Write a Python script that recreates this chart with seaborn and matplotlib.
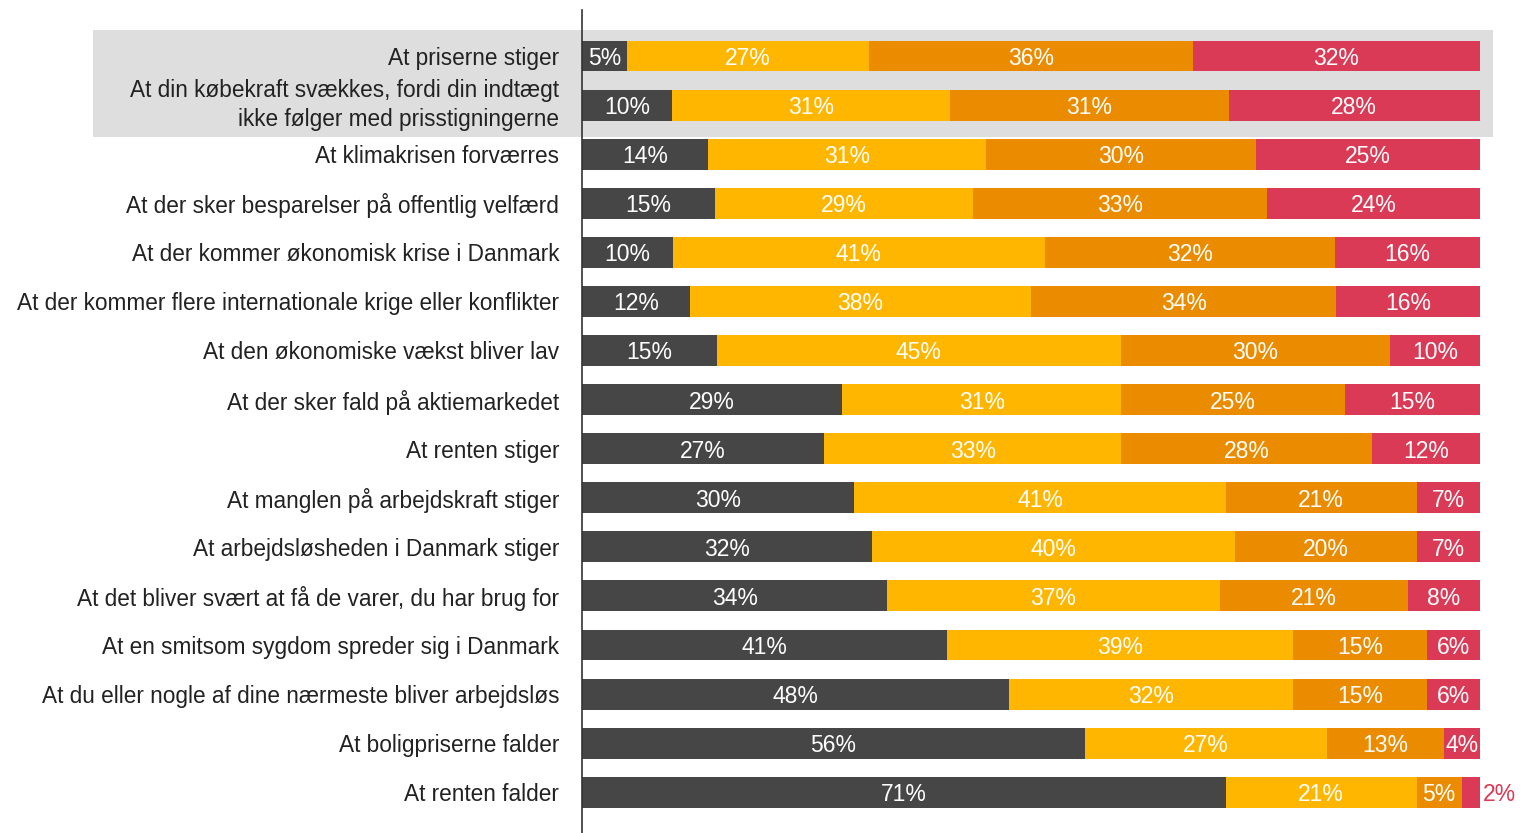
import pandas as pd
import matplotlib.pyplot as plt
import seaborn as sns
from matplotlib.patches import Rectangle

# Data
categories = [
    'At priserne stiger',
    'At din købekraft svækkes, fordi din indtægt\nikke følger med prisstigningerne',
    'At klimakrisen forværres',
    'At der sker besparelser på offentlig velfærd',
    'At der kommer økonomisk krise i Danmark',
    'At der kommer flere internationale krige eller konflikter',
    'At den økonomiske vækst bliver lav',
    'At der sker fald på aktiemarkedet',
    'At renten stiger',
    'At manglen på arbejdskraft stiger',
    'At arbejdsløsheden i Danmark stiger',
    'At det bliver svært at få de varer, du har brug for',
    'At en smitsom sygdom spreder sig i Danmark',
    'At du eller nogle af dine nærmeste bliver arbejdsløs',
    'At boligpriserne falder',
    'At renten falder',
]
seg1 = [5, 10, 14, 15, 10, 12, 15, 29, 27, 30, 32, 34, 41, 48, 56, 71]
seg2 = [27, 31, 31, 29, 41, 38, 45, 31, 33, 41, 40, 37, 39, 32, 27, 21]
seg3 = [36, 31, 30, 33, 32, 34, 30, 25, 28, 21, 20, 21, 15, 15, 13, 5]
seg4 = [32, 28, 25, 24, 16, 16, 10, 15, 12, 7, 7, 8, 6, 6, 4, 2]

colors = ['#464646', '#FFB600', '#EB8C00', '#DA3A55']

df = pd.DataFrame({'cat': categories, 's1': seg1, 's2': seg2, 's3': seg3, 's4': seg4})
segs = ['s1', 's2', 's3', 's4']
total = df[segs].sum(axis=1)
norm = df[segs].div(total, axis=0) * 100
cum = norm.cumsum(axis=1)

sns.set_style('white')
plt.rcParams['font.family'] = ['Liberation Sans', 'DejaVu Sans']

fig = plt.figure(figsize=(15.22, 8.33), dpi=100)
ax = fig.add_axes([582 / 1522, 0, 898 / 1522, 823 / 833])

# Highlight behind the first two rows
ax.add_patch(Rectangle((-54.45, -0.53), 155.9, 2.18, facecolor='#DEDEDE',
                       edgecolor='none', clip_on=False, zorder=0))

# Stacked bars: draw cumulative totals from the right-most segment inwards
for i in range(3, -1, -1):
    sns.barplot(x=cum[segs[i]], y=df['cat'], orient='h', color=colors[i],
                width=0.63, saturation=1, linewidth=0, ax=ax, zorder=2)

# Percent labels
for r in range(len(df)):
    for i, s in enumerate(segs):
        val = df.loc[r, s]
        end = cum.loc[r, s]
        start = end - norm.loc[r, s]
        if val < 3:
            ax.text(100 + 2.2, r, f'{val}%', ha='center', va='center_baseline',
                    color=colors[i], fontsize=16.5, clip_on=False, zorder=3)
        else:
            ax.text((start + end) / 2, r, f'{val}%', ha='center', va='center_baseline',
                    color='white', fontsize=16.5, zorder=3)

ax.set_xlim(0, 100)
ax.set_ylim(15.83, -0.937)
ax.set_xlabel('')
ax.set_ylabel('')
ax.set_xticks([])
ax.tick_params(axis='y', length=0, pad=16.5, labelsize=16.3, labelcolor='#222222')
for lbl in ax.get_yticklabels():
    lbl.set_linespacing(1.3)
    if '\n' in lbl.get_text():
        lbl.set_verticalalignment('center')
for sp in ['top', 'right', 'bottom']:
    ax.spines[sp].set_visible(False)
ax.spines['left'].set_color('#333333')
ax.spines['left'].set_linewidth(1.2)
ax.patch.set_alpha(0)

plt.savefig('out.png', dpi=100)
